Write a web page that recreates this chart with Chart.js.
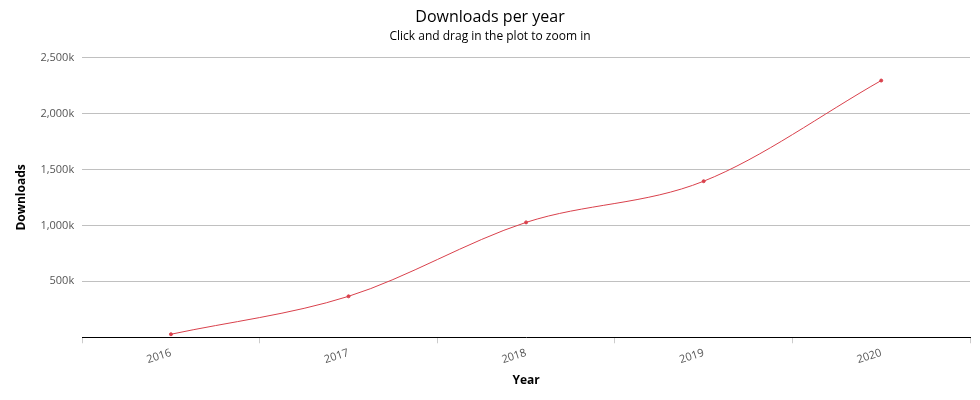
<!DOCTYPE html>
<html>
<head>
<meta charset="utf-8">
<script src="https://cdn.jsdelivr.net/npm/chart.js@4"></script>
<style>
  html, body { margin: 0; padding: 0; background: #fff; }
  #wrap { width: 980px; height: 400px; }
</style>
</head>
<body>
<div id="wrap"><canvas id="chart"></canvas></div>
<script>
// chart data
const years = ['2016', '2017', '2018', '2019', '2020'];
const downloads = [27000, 366000, 1027000, 1395000, 2295000];
const yTicks = [0, 500000, 1000000, 1500000, 2000000, 2500000];

function fmtK(v) {
    if (v === 0) return '';
    return (v / 1000).toLocaleString('en-US') + 'k';
}

new Chart(document.getElementById('chart'), {
    type: 'line',
    data: {
        labels: years,
        datasets: [{
            data: downloads,
            borderColor: '#d9414c',
            backgroundColor: '#d9414c',
            borderWidth: 1,
            pointRadius: 1.5,
            pointHoverRadius: 3,
            cubicInterpolationMode: 'monotone',
            fill: false
        }]
    },
    options: {
        responsive: true,
        maintainAspectRatio: false,
        animation: false,
        layout: { padding: { left: 10, right: 10, top: 0, bottom: 8 } },
        plugins: {
            legend: { display: false },
            title: {
                display: true,
                text: 'Downloads per year',
                color: '#000',
                font: { family: 'Open Sans', size: 16, weight: 'normal' },
                padding: { top: 8, bottom: 2 }
            },
            subtitle: {
                display: true,
                text: 'Click and drag in the plot to zoom in',
                color: '#000',
                font: { family: 'Open Sans', size: 12 },
                padding: { bottom: 14 }
            }
        },
        scales: {
            x: {
                offset: true,
                grid: { offset: true, drawOnChartArea: false, color: '#ccc', tickLength: 6 },
                border: { color: '#000', width: 1 },
                ticks: {
                    color: '#555',
                    font: { family: 'Open Sans', size: 11 },
                    minRotation: 18, maxRotation: 18
                },
                title: {
                    display: true, text: 'Year', color: '#000',
                    font: { family: 'Open Sans', size: 12, weight: 'bold' }
                }
            },
            y: {
                min: 0, max: 2500000,
                afterBuildTicks: axis => { axis.ticks = yTicks.map(v => ({ value: v })); },
                grid: {
                    color: ctx => ctx.tick && ctx.tick.value === 0 ? 'rgba(0,0,0,0)' : '#c0c0c0',
                    drawTicks: false
                },
                border: { display: false },
                ticks: {
                    color: '#555',
                    padding: 8,
                    font: { family: 'Open Sans', size: 11 },
                    callback: v => fmtK(v)
                },
                title: {
                    display: true, text: 'Downloads', color: '#000',
                    font: { family: 'Open Sans', size: 12, weight: 'bold' }
                }
            }
        }
    }
});
</script>
</body>
</html>
